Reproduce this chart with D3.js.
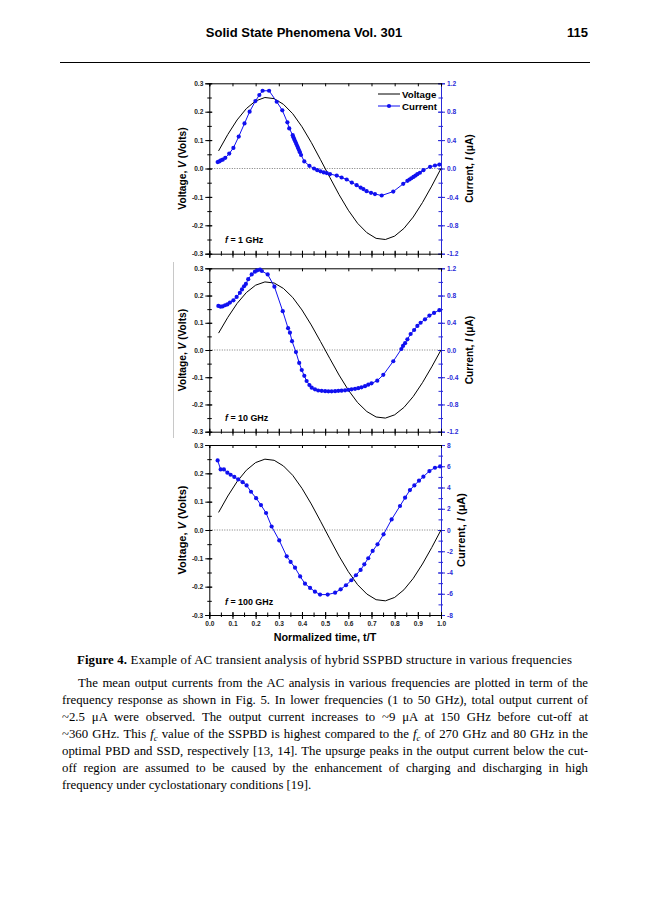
<!DOCTYPE html>
<html><head><meta charset="utf-8">
<script src="https://cdn.jsdelivr.net/npm/d3@7"></script>
<style>body{margin:0;background:#fff}svg{display:block}</style>
</head><body>
<svg id="c" width="650" height="920"></svg>
<script>
// ---------- data ----------
const timeTicks = [0.0,0.1,0.2,0.3,0.4,0.5,0.6,0.7,0.8,0.9,1.0];
const voltTicks = [-0.3,-0.2,-0.1,0.0,0.1,0.2,0.3];
const curTicksLow = [-1.2,-0.8,-0.4,0.0,0.4,0.8,1.2];
const curTicksHigh = [-8,-6,-4,-2,0,2,4,6,8];
const freqLabels = ["1 GHz","10 GHz","100 GHz"];
const seriesNames = ["Voltage","Current"];

const tV   = [0.04,0.08,0.12,0.16,0.20,0.24,0.28,0.32,0.36,0.40,0.44,0.48,0.52,0.56,0.60,0.64,0.68,0.72,0.76,0.80,0.84,0.88,0.92,0.96,1.00];
const volt = [0.062,0.120,0.171,0.211,0.238,0.250,0.246,0.226,0.193,0.147,0.092,0.031,-0.031,-0.092,-0.147,-0.193,-0.226,-0.246,-0.250,-0.238,-0.211,-0.171,-0.120,-0.062,0.000];

const t1 = [0.036,0.043,0.05,0.058,0.069,0.086,0.104,0.127,0.152,0.174,0.199,0.216,0.230,0.258,0.291,0.315,0.337,0.345,0.36,0.363,0.367,0.371,0.375,0.379,0.383,0.387,0.391,0.396,0.41,0.432,0.452,0.466,0.48,0.494,0.507,0.521,0.55,0.571,0.593,0.615,0.636,0.653,0.665,0.679,0.698,0.715,0.744,0.794,0.837,0.855,0.864,0.872,0.881,0.89,0.898,0.909,0.924,0.953,0.974,0.993];
const cur1 = [0.09,0.10,0.115,0.125,0.15,0.21,0.29,0.45,0.635,0.80,0.95,1.035,1.095,1.095,0.94,0.82,0.65,0.565,0.47,0.44,0.41,0.38,0.35,0.32,0.29,0.26,0.23,0.19,0.10,0.038,0.0,-0.024,-0.04,-0.055,-0.065,-0.078,-0.10,-0.127,-0.155,-0.198,-0.235,-0.268,-0.29,-0.32,-0.343,-0.36,-0.38,-0.325,-0.216,-0.174,-0.155,-0.137,-0.118,-0.10,-0.08,-0.06,-0.024,0.024,0.042,0.055];

const t2 = [0.039,0.049,0.058,0.068,0.078,0.089,0.104,0.118,0.132,0.141,0.15,0.158,0.168,0.183,0.197,0.207,0.219,0.227,0.252,0.281,0.317,0.34,0.348,0.357,0.374,0.388,0.399,0.41,0.42,0.432,0.442,0.456,0.47,0.485,0.5,0.514,0.528,0.543,0.557,0.571,0.586,0.6,0.614,0.629,0.643,0.657,0.672,0.686,0.70,0.725,0.751,0.794,0.829,0.836,0.845,0.855,0.869,0.884,0.898,0.912,0.931,0.95,0.97,0.993];
const cur2 = [0.647,0.637,0.642,0.657,0.67,0.696,0.73,0.78,0.84,0.89,0.936,0.97,1.04,1.11,1.15,1.17,1.18,1.16,1.11,0.93,0.57,0.32,0.255,0.13,-0.03,-0.19,-0.294,-0.38,-0.455,-0.514,-0.553,-0.578,-0.595,-0.60,-0.605,-0.607,-0.607,-0.605,-0.60,-0.597,-0.592,-0.585,-0.578,-0.57,-0.56,-0.548,-0.532,-0.51,-0.49,-0.45,-0.365,-0.165,0.015,0.06,0.10,0.157,0.235,0.294,0.353,0.40,0.45,0.505,0.545,0.585];

const t3 = [0.036,0.049,0.063,0.078,0.092,0.108,0.125,0.144,0.161,0.18,0.202,0.223,0.245,0.269,0.302,0.334,0.351,0.37,0.392,0.413,0.435,0.456,0.478,0.511,0.543,0.567,0.59,0.613,0.633,0.653,0.669,0.686,0.705,0.726,0.752,0.787,0.823,0.845,0.866,0.885,0.905,0.924,0.95,0.974,0.996];
const cur3 = [6.55,5.7,5.7,5.4,5.2,5.0,4.76,4.5,4.2,3.6,3.0,2.35,1.6,0.33,-0.98,-2.48,-3.0,-3.55,-4.37,-5.05,-5.45,-5.8,-6.08,-6.08,-5.9,-5.58,-5.2,-4.73,-4.26,-3.76,-3.23,-2.66,-1.97,-1.35,-0.41,1.0,2.26,3.04,3.76,4.2,4.64,5.02,5.55,5.86,5.98];

// ---------- drawing ----------
const svg = d3.select("#c");
const BLUE = "#1010f0", AXBLUE = "#2a2ad8";
const SANS = "'Liberation Sans', Arial, sans-serif";
const SERIF = "'Liberation Serif', 'Times New Roman', serif";

svg.append("text").attr("x",304).attr("y",36.5).attr("text-anchor","middle")
  .attr("font-family",SANS).attr("font-weight","bold").attr("font-size",13).text("Solid State Phenomena Vol. 301");
svg.append("text").attr("x",588).attr("y",36.5).attr("text-anchor","end")
  .attr("font-family",SANS).attr("font-weight","bold").attr("font-size",13).text("115");
svg.append("line").attr("x1",60).attr("x2",590).attr("y1",62.5).attr("y2",62.5).attr("stroke","#000").attr("stroke-width",1);

svg.append("path").attr("d","M173.5,262V438").attr("stroke","#c8c8c8").attr("fill","none");

const x = d3.scaleLinear().domain([0,1]).range([209.3,441]);
const panels = [
  {t:t1, c:cur1, top:83.3, bottom:253.7, cTicks:curTicksLow, cMinor:0.2, fmt:d=>d.toFixed(1), fs:10.2, rx:469, xlab:false, legend:true},
  {t:t2, c:cur2, top:268.3, bottom:431.7, cTicks:curTicksLow, cMinor:0.2, fmt:d=>d.toFixed(1), fs:10.2, rx:469, xlab:false, legend:false},
  {t:t3, c:cur3, top:445, bottom:615, cTicks:curTicksHigh, cMinor:1, fmt:d=>d.toFixed(0), fs:11, rx:461, xlab:true, legend:false}
];

function styleAxis(g, color){
  g.attr("font-family",SANS).attr("font-size",6.6).attr("font-weight","bold");
  g.select(".domain").attr("stroke",color).attr("stroke-width",1);
  g.selectAll(".tick line").attr("stroke",color);
  g.selectAll(".tick text").attr("fill",color==="#000"?"#222":color);
}

panels.forEach((p,i)=>{
  const g = svg.append("g");
  const x0 = x.range()[0], x1 = x.range()[1];
  const yV = d3.scaleLinear().domain([-0.3,0.3]).range([p.bottom,p.top]);
  const cd = d3.extent(p.cTicks);
  const yI = d3.scaleLinear().domain(cd).range([p.bottom,p.top]);

  g.append("line").attr("x1",x0).attr("x2",x1).attr("y1",yV(0)).attr("y2",yV(0))
    .attr("stroke","#555").attr("stroke-width",0.8).attr("stroke-dasharray","1,1.5");

  const vMinor = d3.range(-0.3,0.3001,0.05).map(v=>+v.toFixed(2));
  const tMinor = d3.range(0,1.0001,0.05).map(v=>+v.toFixed(2));
  const iMinor = d3.range(cd[0],cd[1]+1e-6,p.cMinor).map(v=>+v.toFixed(2));

  const la = g.append("g").attr("transform",`translate(${x0},0)`)
    .call(d3.axisLeft(yV).tickValues(voltTicks).tickSize(4).tickPadding(2).tickFormat(d=>d.toFixed(1)));
  la.selectAll(".tick line").attr("x1",3);
  styleAxis(la,"#000");
  g.append("g").attr("transform",`translate(${x0},0)`)
    .call(d3.axisLeft(yV).tickValues(vMinor).tickSize(0).tickFormat(""))
    .call(a=>{a.select(".domain").remove(); a.selectAll(".tick line").attr("x1",2.5).attr("x2",-2).attr("stroke","#000");});

  const ra = g.append("g").attr("transform",`translate(${x1},0)`)
    .call(d3.axisRight(yI).tickValues(p.cTicks).tickSize(4).tickPadding(2).tickFormat(p.fmt));
  ra.selectAll(".tick line").attr("x1",-3);
  styleAxis(ra,AXBLUE);
  g.append("g").attr("transform",`translate(${x1},0)`)
    .call(d3.axisRight(yI).tickValues(iMinor).tickSize(0).tickFormat(""))
    .call(a=>{a.select(".domain").remove(); a.selectAll(".tick line").attr("x1",-2.5).attr("x2",2).attr("stroke",AXBLUE);});

  const ba = g.append("g").attr("transform",`translate(0,${p.bottom})`)
    .call(d3.axisBottom(x).tickValues(timeTicks).tickSize(4).tickPadding(2.5).tickFormat(p.xlab?(d=>d.toFixed(1)):""));
  ba.selectAll(".tick line").attr("y1",-3);
  styleAxis(ba,"#000");
  g.append("g").attr("transform",`translate(0,${p.bottom})`)
    .call(d3.axisBottom(x).tickValues(tMinor).tickSize(0).tickFormat(""))
    .call(a=>{a.select(".domain").remove(); a.selectAll(".tick line").attr("y1",-2.5).attr("y2",2).attr("stroke","#000");});

  const ta = g.append("g").attr("transform",`translate(0,${p.top})`)
    .call(d3.axisTop(x).tickValues(timeTicks).tickSize(-3).tickFormat(""));
  styleAxis(ta,"#000");

  g.append("path").datum(tV.map((t,k)=>[t,volt[k]]))
    .attr("d",d3.line().x(d=>x(d[0])).y(d=>yV(d[1])))
    .attr("fill","none").attr("stroke","#000").attr("stroke-width",1);

  const cdat = p.t.map((t,k)=>[t,p.c[k]]);
  g.append("path").datum(cdat)
    .attr("d",d3.line().x(d=>x(d[0])).y(d=>yI(d[1])))
    .attr("fill","none").attr("stroke",BLUE).attr("stroke-width",1);
  g.selectAll("circle.m").data(cdat).enter().append("circle")
    .attr("cx",d=>x(d[0])).attr("cy",d=>yI(d[1])).attr("r",2.1).attr("fill",BLUE);

  const cy = (p.top+p.bottom)/2;
  const vt = g.append("text").attr("transform",`translate(182,${cy}) rotate(-90)`).attr("text-anchor","middle")
    .attr("dy","0.35em").attr("font-family",SANS).attr("font-weight","bold").attr("font-size",p.fs);
  vt.append("tspan").text("Voltage, ");
  vt.append("tspan").attr("font-style","italic").text("V");
  vt.append("tspan").text(" (Volts)");
  const ct = g.append("text").attr("transform",`translate(${p.rx},${cy}) rotate(-90)`).attr("text-anchor","middle")
    .attr("dy","0.35em").attr("font-family",SANS).attr("font-weight","bold").attr("font-size",p.fs);
  ct.append("tspan").text("Current, ");
  ct.append("tspan").attr("font-style","italic").text("I");
  ct.append("tspan").text(" (\u03bcA)");

  const ft = g.append("text").attr("x",225).attr("y",p.bottom-10.5)
    .attr("font-family",SANS).attr("font-weight","bold").attr("font-size",8.9);
  ft.append("tspan").attr("font-style","italic").text("f");
  ft.append("tspan").text(" = " + freqLabels[i]);

  if(p.xlab){
    g.append("text").attr("x",325).attr("y",p.bottom+25.5).attr("text-anchor","middle")
      .attr("font-family",SANS).attr("font-weight","bold").attr("font-size",10.8).text("Normalized time, t/T");
  }

  if(p.legend){
    const lg = g.append("g").attr("font-family",SANS).attr("font-weight","bold").attr("font-size",9.7);
    lg.append("line").attr("x1",378).attr("x2",400).attr("y1",94).attr("y2",94).attr("stroke","#000");
    lg.append("text").attr("x",402).attr("y",97.5).text(seriesNames[0]);
    lg.append("line").attr("x1",378).attr("x2",400).attr("y1",106).attr("y2",106).attr("stroke",BLUE);
    lg.append("circle").attr("cx",389).attr("cy",106).attr("r",2.1).attr("fill",BLUE);
    lg.append("text").attr("x",402).attr("y",109.5).text(seriesNames[1]);
  }
});

const BODYFS = 12.8;
const cap = svg.append("text").attr("x",324.5).attr("y",664).attr("text-anchor","middle")
  .attr("font-family",SERIF).attr("font-size",BODYFS);
cap.append("tspan").attr("font-weight","bold").text("Figure 4.");
cap.append("tspan").text(" Example of AC transient analysis of hybrid SSPBD structure in various frequencies");
{
  const w = cap.node().getComputedTextLength(), target = 495;
  const n = cap.text().length;
  cap.attr("letter-spacing", (target-w)/(n-1));
}

const bodyLines = [
  [["The mean output currents from the AC analysis in various frequencies are plotted in term of the"]],
  [["frequency response as shown in Fig. 5. In lower frequencies (1 to 50 GHz), total output current of"]],
  [["~2.5 \u03bcA were observed. The output current increases to ~9 \u03bcA at 150 GHz before cut-off at"]],
  [["~360 GHz. This "],["f","i"],["c","s"],[" value of the SSPBD is highest compared to the ","r"],["f","i"],["c","s"],[" of 270 GHz and 80 GHz in the","r"]],
  [["optimal PBD and SSD, respectively [13, 14]. The upsurge peaks in the output current below the cut-"]],
  [["off region are assumed to be caused by the enhancement of charging and discharging in high"]],
  [["frequency under cyclostationary conditions [19]."]]
];
bodyLines.forEach((parts,k)=>{
  const x0 = k===0 ? 78 : 62, x1 = 588;
  const tx = svg.append("text").attr("x",x0).attr("y",687+k*17)
    .attr("font-family",SERIF).attr("font-size",BODYFS).attr("xml:space","preserve");
  parts.forEach(([s,st])=>{
    const ts = tx.append("tspan").text(s);
    if(st==="i") ts.attr("font-style","italic");
    if(st==="s") ts.attr("font-style","italic").attr("font-size",BODYFS*0.68).attr("dy",2.5);
    if(st==="r") ts.attr("dy",-2.5);
  });
  const full = parts.map(p=>p[0]).join("");
  const w = tx.node().getComputedTextLength();
  const extra = (x1-x0) - w;
  if(k < bodyLines.length-1){
    const n = (full.match(/ /g)||[]).length;
    if(extra >= 0) tx.attr("word-spacing", extra/n);
    else tx.attr("letter-spacing", extra/(full.length-1));
  }
});
</script>
</body></html>
